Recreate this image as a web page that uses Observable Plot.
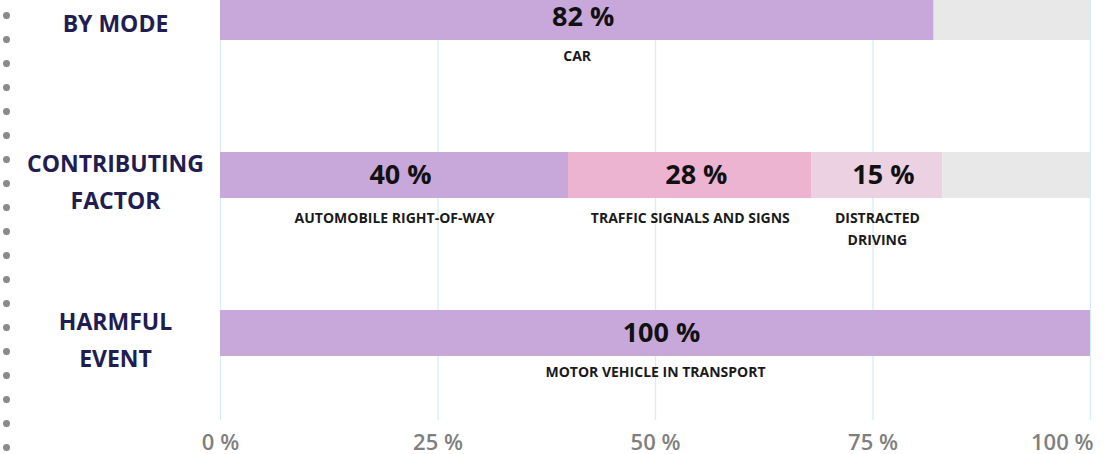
<!DOCTYPE html>
<html>
<head>
<meta charset="utf-8">
<script src="https://cdn.jsdelivr.net/npm/d3@7"></script>
<script src="https://cdn.jsdelivr.net/npm/@observablehq/plot@0.6"></script>
<style>
  html, body { margin: 0; padding: 0; background: #fff; }
  #wrap { position: relative; width: 1115px; height: 454px; overflow: hidden; font-family: "Open Sans", sans-serif; }
  #dots { position: absolute; left: 3px; top: 11.5px; display: flex; flex-direction: column; gap: 17.06px; }
  #dots span { display: block; width: 7px; height: 7px; border-radius: 50%; background: #8a8a8a; }
  svg { display: block; }
</style>
</head>
<body>
<div id="wrap"><div id="dots"></div><div id="chart"></div></div>
<script>
// ---- data ----
const rows = ["BY MODE", "CONTRIBUTING FACTOR", "HARMFUL EVENT"];
const rowLabels = ["BY MODE", "CONTRIBUTING\nFACTOR", "HARMFUL\nEVENT"];
const segRows = ["BY MODE", "CONTRIBUTING FACTOR", "CONTRIBUTING FACTOR", "CONTRIBUTING FACTOR", "HARMFUL EVENT"];
const segNames = ["CAR", "AUTOMOBILE RIGHT-OF-WAY", "TRAFFIC SIGNALS AND SIGNS", "DISTRACTED\nDRIVING", "MOTOR VEHICLE IN TRANSPORT"];
const segValues = [82, 40, 28, 15, 100];
const xTicks = [0, 25, 50, 75, 100];
const dotCount = 19;

// ---- styles ----
const segColors = ["#c8a8da", "#edb4d1", "#ebd1e1"];
const restColor = "#e8e8e8";
const gridColor = "#d6eef2";
const navy = "#221d50";

// decorative dots
const dotsEl = document.getElementById("dots");
d3.range(dotCount).forEach(() => dotsEl.appendChild(document.createElement("span")));

// build segments
const segs = [];
const totals = new Map();
segValues.forEach((v, i) => {
  const r = segRows[i];
  const start = totals.get(r) || 0;
  const idx = segs.filter(s => s.row === r).length;
  segs.push({row: r, name: segNames[i], value: v, x1: start, x2: start + v, color: segColors[idx]});
  totals.set(r, start + v);
});
const rest = rows.filter(r => (totals.get(r) || 0) < 100).map(r => ({row: r, x1: totals.get(r) || 0, x2: 100}));
const multi = new Set(segs.filter(s => s.name.includes("\n")).map(s => s.row));
const segsSingle = segs.filter(s => !multi.has(s.row));
const segsMulti = segs.filter(s => multi.has(s.row));
const fmt = d => d + " %";
const lastTick = xTicks[xTicks.length - 1];

const nameOpts = {x: d => (d.x1 + d.x2) / 2, y: "row", text: "name", lineAnchor: "top", lineHeight: 1.55, fontSize: 14, fontWeight: 700, fill: "#1a1a1a"};
const tickOpts = {tickSize: 0, tickPadding: 14, fontSize: 22, fontWeight: 600, color: "#7f7f7f", tickFormat: fmt, label: null};

const chart = Plot.plot({
  width: 1115,
  height: 454,
  marginLeft: 220,
  marginRight: 25,
  marginTop: 0,
  marginBottom: 34,
  style: {fontFamily: "'Open Sans', sans-serif", background: "transparent"},
  x: {domain: [0, 100], label: null},
  y: {domain: rows, range: [-6, 356], paddingInner: 0.71, paddingOuter: 0, axis: null, label: null},
  marks: [
    Plot.gridX(xTicks, {stroke: gridColor, strokeOpacity: 1, strokeWidth: 1.3}),
    Plot.axisX(xTicks.slice(0, -1), tickOpts),
    Plot.axisX([lastTick], {...tickOpts, textAnchor: "end", dx: 3}),
    Plot.barX(rest, {x1: "x1", x2: "x2", y: "row", fill: restColor}),
    Plot.barX(segs, {x1: "x1", x2: "x2", y: "row", fill: "color"}),
    Plot.text(segs, {x: d => (d.x1 + d.x2) / 2, y: "row", text: d => fmt(d.value), dx: 6, fontSize: 27, fontWeight: 700, fill: "#111"}),
    Plot.text(segsSingle, {...nameOpts, dy: 28}),
    Plot.text(segsMulti, {...nameOpts, dy: 32}),
    Plot.text(rows, {y: d => d, text: (d, i) => rowLabels[i], frameAnchor: "left", dx: -105, textAnchor: "middle", lineAnchor: "middle", dy: 3, lineHeight: 1.6, fontSize: 23, fontWeight: 700, fill: navy})
  ]
});
document.getElementById("chart").appendChild(chart);
</script>
</body>
</html>
